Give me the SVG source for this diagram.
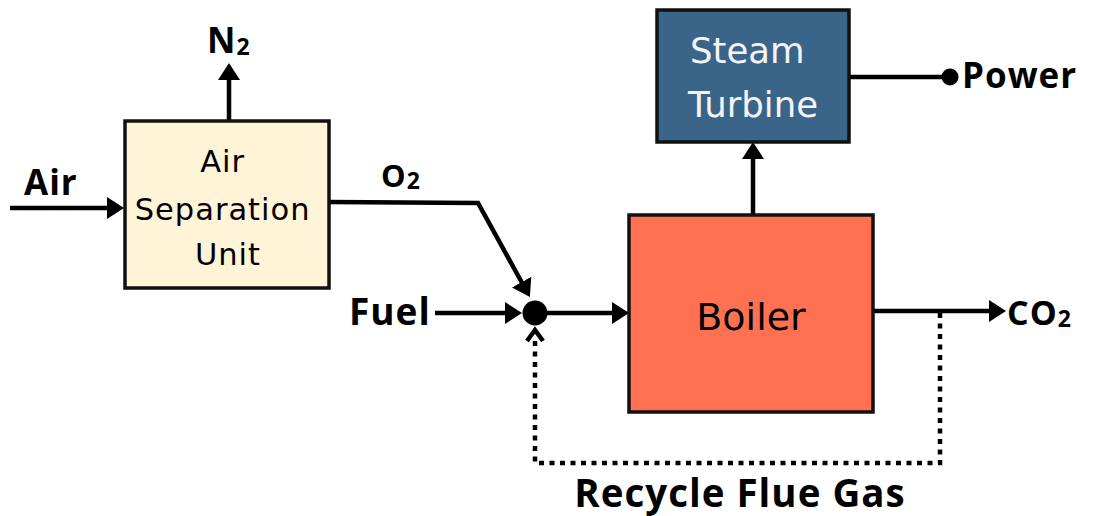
<svg xmlns="http://www.w3.org/2000/svg" width="1093" height="516" viewBox="0 0 1093 516">
<style>
.box{stroke:#111;stroke-width:3.5}
.lbl{font-family:"Open Sans","Liberation Sans",sans-serif;font-weight:700;fill:#000;letter-spacing:1px}
.sub{font-size:23px}
.nt{font-family:"DejaVu Sans","Liberation Sans",sans-serif;text-anchor:middle}
.ln{fill:none;stroke:#000;stroke-width:4.5}
.dot{fill:none;stroke:#000;stroke-width:4.5;stroke-dasharray:5 5.5}
</style>
<defs>
<marker id="ah" markerUnits="userSpaceOnUse" markerWidth="17" markerHeight="24" viewBox="0 0 17 24" refX="9" refY="12" orient="auto">
<path d="M0,1 L17,12 L0,23 Z" fill="#000"/>
</marker>
</defs>
<rect width="1093" height="516" fill="#fff"/>

<g id="connectors">
<line class="ln" x1="10" y1="208" x2="116" y2="208" marker-end="url(#ah)"/>
<line class="ln" x1="229" y1="120" x2="229" y2="71" marker-end="url(#ah)"/>
<polyline class="ln" points="329,202 478,203 526,290" marker-end="url(#ah)"/>
<line class="ln" x1="435" y1="313" x2="514" y2="313" marker-end="url(#ah)"/>
<line class="ln" x1="547" y1="313" x2="621" y2="313" marker-end="url(#ah)"/>
<line class="ln" x1="753" y1="215" x2="753" y2="150" marker-end="url(#ah)"/>
<line class="ln" x1="873" y1="311" x2="998" y2="311" marker-end="url(#ah)"/>
<line class="ln" x1="849" y1="77" x2="950" y2="77"/>
<circle cx="950" cy="77" r="8.5" fill="#000"/>
<path class="dot" d="M940,313 L940,463 L535,463 L535,338"/>
<polyline class="ln" points="527,341 535,330 543,341"/>
<circle cx="535" cy="313" r="12.5" fill="#000"/>
</g>

<g id="asu">
<rect class="box" x="125" y="121" width="204" height="167" fill="#FFF3D8"/>
<text class="nt" font-size="30.5" letter-spacing="1" fill="#000">
<tspan x="228" y="172">Air</tspan>
<tspan x="228" y="220">Separation</tspan>
<tspan x="228" y="265">Unit</tspan>
</text>
</g>

<g id="boiler">
<rect class="box" x="629" y="215" width="244" height="197" fill="#FF7150"/>
<text class="nt" x="751" y="330" font-size="38" fill="#000">Boiler</text>
</g>

<g id="steam-turbine">
<rect class="box" x="657" y="10" width="192" height="132" fill="#3B6489"/>
<text class="nt" font-size="35.5" fill="#F4F4F4">
<tspan x="753" y="63">Steam</tspan>
<tspan x="753" y="117">Turbine</tspan>
</text>
</g>

<g id="labels">
<text class="lbl" x="24" y="195" font-size="35">Air</text>
<text class="lbl" x="207" y="53" font-size="35">N<tspan class="sub" dy="2">2</tspan></text>
<text class="lbl" x="381" y="187" font-size="31">O<tspan class="sub" dy="2">2</tspan></text>
<text class="lbl" x="349" y="325" font-size="37">Fuel</text>
<text class="lbl" x="1007" y="325" font-size="34" letter-spacing="2">CO<tspan class="sub" dy="2">2</tspan></text>
<text class="lbl" x="962" y="88" font-size="35" letter-spacing="4">Power</text>
<text class="lbl" x="740" y="507" font-size="38.5" text-anchor="middle">Recycle Flue Gas</text>
</g>
</svg>
